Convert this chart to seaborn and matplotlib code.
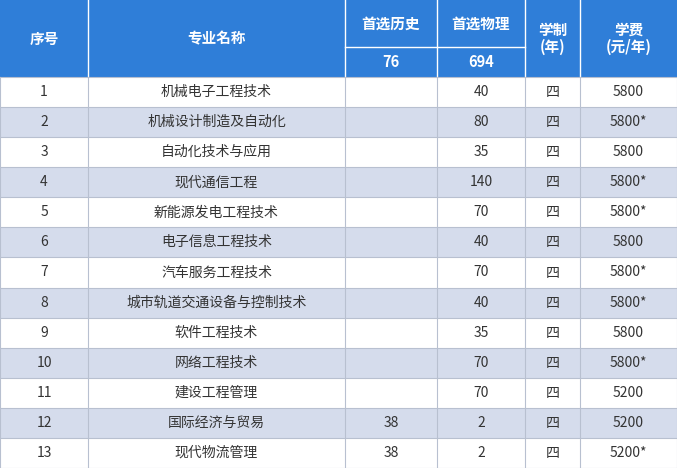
import matplotlib
matplotlib.use("Agg")
import matplotlib.pyplot as plt
import seaborn as sns
import numpy as np
from matplotlib.colors import ListedColormap
from matplotlib.patches import Rectangle

plt.rcParams["font.family"] = ["Noto Sans CJK SC", "Noto Sans CJK JP", "Noto Sans CJK TC", "DejaVu Sans"]
plt.rcParams["font.sans-serif"] = ["Noto Sans CJK SC", "Noto Sans CJK JP", "DejaVu Sans"]

ids = [str(i) for i in range(1, 14)]
majors = ["机械电子工程技术", "机械设计制造及自动化", "自动化技术与应用", "现代通信工程",
          "新能源发电工程技术", "电子信息工程技术", "汽车服务工程技术", "城市轨道交通设备与控制技术",
          "软件工程技术", "网络工程技术", "建设工程管理", "国际经济与贸易", "现代物流管理"]
history = ["", "", "", "", "", "", "", "", "", "", "", "38", "38"]
physics = ["40", "80", "35", "140", "70", "40", "70", "40", "35", "70", "70", "2", "2"]
years = ["四"] * 13
fees = ["5800", "5800*", "5800", "5800*", "5800*", "5800", "5800*", "5800*", "5800", "5800*", "5200", "5200", "5200*"]
history_total = "76"
physics_total = "694"

col_edges = [0, 88, 345, 437, 525, 580, 677]
W, H = 677, 468
h_top, h_sub = 47, 77
row_h = (H - h_sub) / 13

fig = plt.figure(figsize=(6.77, 4.68), dpi=100)

# striped body background drawn with seaborn heatmap
bax = fig.add_axes([0, 0, 1, (H - h_sub) / H])
stripes = np.array([[i % 2] for i in range(13)])
sns.heatmap(stripes, ax=bax, cmap=ListedColormap(["#ffffff", "#d5dcec"]), cbar=False,
            xticklabels=False, yticklabels=False)
bax.axis("off")

ax = fig.add_axes([0, 0, 1, 1])
ax.patch.set_alpha(0)
ax.set_xlim(0, W); ax.set_ylim(H, 0); ax.axis("off")

blue = "#2f7ed8"
ax.add_patch(Rectangle((0, 0), W, h_sub, color=blue, lw=0))
for x in col_edges[1:-1]:
    ax.plot([x, x], [0, h_sub], color="white", lw=1)
ax.plot([345, 525], [h_top, h_top], color="white", lw=1)

def cx(c): return (col_edges[c] + col_edges[c + 1]) / 2
hdr = dict(color="white", fontsize=10.5, fontweight="bold", ha="center", va="center")
ax.text(cx(0), h_sub / 2, "序号", **hdr)
ax.text(cx(1), h_sub / 2, "专业名称", **hdr)
ax.text(cx(2), h_top / 2, "首选历史", **hdr)
ax.text(cx(3), h_top / 2, "首选物理", **hdr)
ax.text(cx(2), (h_top + h_sub) / 2, history_total, **hdr)
ax.text(cx(3), (h_top + h_sub) / 2, physics_total, **hdr)
ax.text(cx(4), h_sub / 2, "学制\n(年)", linespacing=1.1, **hdr)
ax.text(cx(5), h_sub / 2, "学费\n(元/年)", linespacing=1.1, **hdr)

grid = "#b8c0d0"
for i in range(14):
    y = h_sub + i * row_h
    ax.plot([0, W], [y, y], color=grid, lw=0.8)
for x in col_edges:
    ax.plot([x, x], [h_sub, H], color=grid, lw=0.8)

cols = [ids, majors, history, physics, years, fees]
for i in range(13):
    y = h_sub + (i + 0.5) * row_h
    for c, arr in enumerate(cols):
        ax.text(cx(c), y, arr[i], ha="center", va="center", fontsize=10, color="#333333")

fig.savefig("out.png", dpi=100)
